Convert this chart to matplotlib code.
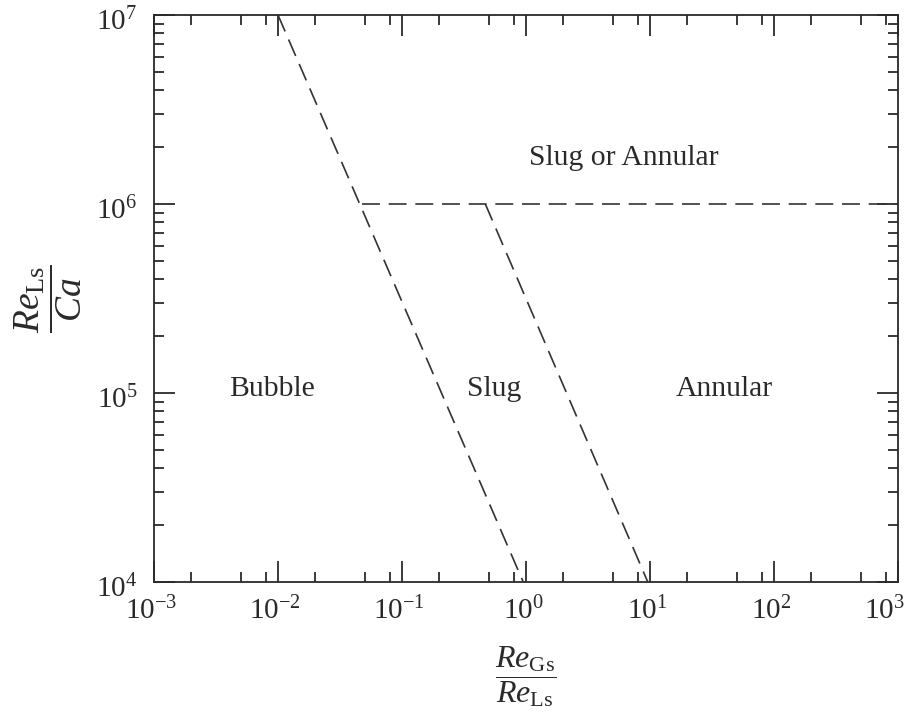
import matplotlib
matplotlib.use("Agg")
import matplotlib.pyplot as plt
import matplotlib.transforms as mtransforms
from matplotlib.ticker import LogLocator, LogFormatterMathtext, NullFormatter

plt.rcParams['font.family'] = ['Liberation Serif', 'DejaVu Serif']
plt.rcParams['mathtext.fontset'] = 'custom'
plt.rcParams['mathtext.rm'] = 'Liberation Serif'
plt.rcParams['mathtext.it'] = 'Liberation Serif:italic'
plt.rcParams['mathtext.bf'] = 'Liberation Serif:bold'
plt.rcParams['mathtext.default'] = 'regular'
plt.rcParams['lines.scale_dashes'] = False

# Boundary lines (x = Re_Gs/Re_Ls, y = Re_Ls/Ca)
bubble_slug_x = [0.01, 0.95]
bubble_slug_y = [1e7, 1e4]
slug_annular_x = [0.47, 9.6]
slug_annular_y = [1e6, 1e4]
upper_x = [0.048, 1e3]
upper_y = [1e6, 1e6]

# Region labels
region_names = ["Bubble", "Slug", "Annular", "Slug or Annular"]
region_x = [0.0090, 0.557, 39.5, 6.2]
region_y = [0.97e5, 0.97e5, 0.97e5, 1.6e6]

ink = '#2a2a2a'
fig = plt.figure(figsize=(9.09, 7.18), dpi=100)
ax = fig.add_axes([0.1694, 0.1894, 0.8185, 0.7897])
ax.set_xscale('log')
ax.set_yscale('log')
ax.set_xlim(1e-3, 1e3)
ax.set_ylim(1e4, 1e7)

dash = (0, (12.9, 6.3))
for xs, ys in [(bubble_slug_x, bubble_slug_y), (slug_annular_x, slug_annular_y), (upper_x, upper_y)]:
    ax.plot(xs, ys, color='#333333', lw=1.2, linestyle=dash)

for name, x, y in zip(region_names, region_x, region_y):
    ax.text(x, y, name, ha='center', va='baseline', fontsize=21.3, color=ink)

ax.xaxis.set_major_locator(LogLocator(base=10, numticks=10))
ax.xaxis.set_minor_locator(LogLocator(base=10, subs=[2, 5, 8], numticks=20))
ax.yaxis.set_major_locator(LogLocator(base=10, numticks=10))
ax.yaxis.set_minor_locator(LogLocator(base=10, subs=list(range(2, 10)), numticks=20))
ax.xaxis.set_major_formatter(LogFormatterMathtext())
ax.yaxis.set_major_formatter(LogFormatterMathtext())
ax.xaxis.set_minor_formatter(NullFormatter())
ax.yaxis.set_minor_formatter(NullFormatter())

ax.tick_params(which='both', direction='in', top=True, right=True, colors=ink,
               width=1.3, labelsize=21, labelcolor=ink)
ax.tick_params(which='major', length=15)
ax.tick_params(axis='x', which='major', pad=11)
ax.tick_params(which='minor', length=7.5)
ax.tick_params(axis='y', which='major', pad=12)
for s in ax.spines.values():
    s.set_linewidth(1.3)
    s.set_color(ink)

ax.set_xlabel(r'$\dfrac{\mathit{Re}_{\mathrm{Gs}}}{\mathit{Re}_{\mathrm{Ls}}}$', fontsize=23, color=ink, labelpad=13)
ax.set_ylabel(r'$\dfrac{\mathit{Re}_{\mathrm{Ls}}}{\mathit{Ca}}$', fontsize=27, color=ink, labelpad=9)

fig.canvas.draw()
# nudge tick labels like the reference
xlabels = ax.get_xticklabels()
for lab in xlabels:
    lab.set_transform(lab.get_transform() + mtransforms.ScaledTranslation(-3 / 100, 0, fig.dpi_scale_trans))
last = [l for l in xlabels if l.get_position()[0] >= 999][0]
last.set_horizontalalignment('right')
last.set_transform(last.get_transform() + mtransforms.ScaledTranslation(10 / 100, 0, fig.dpi_scale_trans))
for lab in ax.get_yticklabels():
    lab.set_transform(lab.get_transform() + mtransforms.ScaledTranslation(0, -4 / 100, fig.dpi_scale_trans))

fig.savefig('out.png', dpi=100)
